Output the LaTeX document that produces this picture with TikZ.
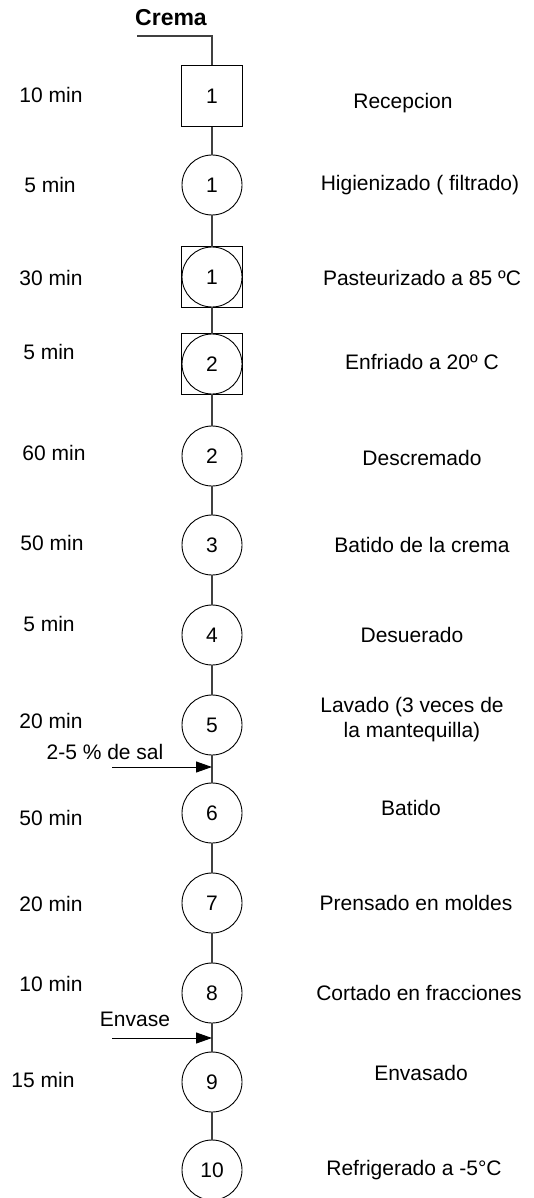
\documentclass[tikz,border=0pt]{standalone}
\usepackage{fontspec}
\setmainfont{Liberation Sans}
\usetikzlibrary{arrows.meta}

\tikzset{
  paso/.style={circle, draw, line width=0.9pt, minimum size=60pt, inner sep=0pt},
  cuadro/.style={rectangle, draw, line width=0.9pt, minimum size=61pt, inner sep=0pt},
  txt/.style={inner sep=0pt, align=center},
  linea/.style={line width=1.1pt, black!75},
  entrada/.style={line width=1pt, -{Triangle[length=16pt, width=11pt]}}
}

\begin{document}
\begin{tikzpicture}[x=1pt, y=-1pt, font=\fontsize{21}{25}\selectfont]
  \useasboundingbox (0,0) rectangle (533,1198);

  %Operaciones
  \draw[]
   (212,96) node[cuadro](r1) {1}
   (212,185) node[paso](h1) {1}
   (212,277) node[paso](p1) {1}
   (212,364) node[paso](e2) {2}
   (212,456) node[paso](d2) {2}
   (212,545) node[paso](b3) {3}
   (212,635) node[paso](d4) {4}
   (212,725) node[paso](l5) {5}
   (212,813) node[paso](b6) {6}
   (212,903) node[paso](p7) {7}
   (212,993) node[paso](c8) {8}
   (212,1082) node[paso](e9) {9}
   (212,1170) node[paso](r10) {10};

  %Operacion combinada
  \node[cuadro] (p1c) at (p1) {};
  \node[cuadro] (e2c) at (e2) {};

  \draw[linea]
   (r1) edge (h1)
   (h1) edge (p1)
   (p1) edge (e2)
   (e2) edge (d2)
   (d2) edge (b3)
   (b3) edge (d4)
   (d4) edge (l5)
   (l5) edge (b6)
   (b6) edge (p7)
   (p7) edge (c8)
   (c8) edge (e9)
   (e9) edge (r10);

  %Entrada de crema
  \node[txt, font=\fontsize{23}{27}\selectfont\bfseries] (crema) at (171,18) {Crema};
  \coordinate (cremain) at (137,36);
  \coordinate (cremac) at (212,36);
  \draw[linea] (cremain) -- (cremac) -- (r1);

  %Entradas laterales
  \coordinate (salin) at (112,767);
  \coordinate (sal) at (212,767);
  \draw[entrada] (salin) -- (sal);
  \node[txt] (saltxt) at (105,752) {2-5 \% de sal};

  \coordinate (envin) at (112,1038);
  \coordinate (env) at (212,1038);
  \draw[entrada] (envin) -- (env);
  \node[txt] (envtxt) at (135,1019) {Envase};

  %Tiempos
  \draw[]
   (51,95) node[txt](t1) {10 min}
   (50,185) node[txt](t2) {5 min}
   (51,278) node[txt](t3) {30 min}
   (49,352) node[txt](t4) {5 min}
   (54,453) node[txt](t5) {60 min}
   (52,543) node[txt](t6) {50 min}
   (49,624) node[txt](t7) {5 min}
   (51,721) node[txt](t8) {20 min}
   (51,818) node[txt](t9) {50 min}
   (51,904) node[txt](t10) {20 min}
   (51,984) node[txt](t11) {10 min}
   (43,1080) node[txt](t12) {15 min};

  %Descripciones
  \draw[]
   (403,103) node[txt](o1) {Recepcion}
   (420,185) node[txt](o2) {Higienizado ( filtrado)}
   (422,278) node[txt](o3) {Pasteurizado a 85 ºC}
   (422,362) node[txt](o4) {Enfriado a 20º C}
   (422,458) node[txt](o5) {Descremado}
   (422,545) node[txt](o6) {Batido de la crema}
   (412,635) node[txt](o7) {Desuerado}
   (412,720) node[txt](o8) {Lavado (3 veces de\\la mantequilla)}
   (411,808) node[txt](o9) {Batido}
   (416,903) node[txt](o10) {Prensado en moldes}
   (419,993) node[txt](o11) {Cortado en fracciones}
   (421,1073) node[txt](o12) {Envasado}
   (414,1170) node[txt](o13) {Refrigerado a -5°C};
\end{tikzpicture}
\end{document}
